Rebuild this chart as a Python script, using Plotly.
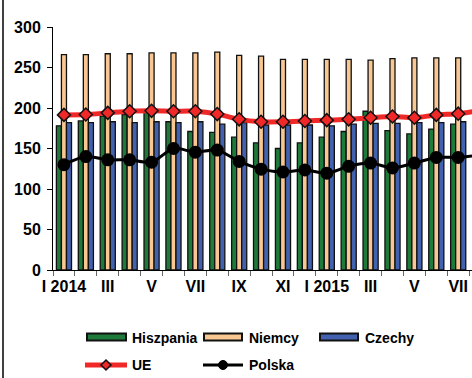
import plotly.graph_objects as go

# Months (Roman numerals), Jan 2014 - Aug 2015
months = ["I 2014", "II", "III", "IV", "V", "VI", "VII", "VIII", "IX", "X", "XI", "XII",
          "I 2015", "II", "III", "IV", "V", "VI", "VII", "VIII"]
tick_labels = ["I 2014", "III", "V", "VII", "IX", "XI", "I 2015", "III", "V", "VII"]

# Prices, EUR/100 kg
hiszpania = [178, 184, 190, 192, 197, 183, 171, 170, 164, 157, 150, 157,
             164, 171, 196, 172, 168, 174, 180]
niemcy = [266, 266, 267, 267, 268, 268, 268, 269, 265, 264, 260, 260,
          260, 260, 259, 261, 262, 262, 262]
czechy = [182, 182, 183, 182, 183, 182, 183, 180, 182, 179, 179, 179,
          178, 180, 181, 181, 182, 182, 183]
ue = [191.5, 192, 194, 196, 196.5, 196, 196, 192.5, 186, 183, 183, 184,
      185, 186, 188, 189.5, 188, 191.5, 193, 197]
polska = [130, 140, 136, 136, 133, 150, 145.5, 148, 134, 124.5, 121, 123.5,
          119.5, 128, 132, 126, 132, 139, 139, 142]

GREEN = "#1E7A3A"
PEACH = "#F9C892"
BLUE = "#4262B0"
RED = "#F02828"
FONT = "Liberation Sans, Arial, sans-serif"

W, H = 472, 378
ML, MT, MB, MR = 53, 27, 108, 0
PW, PH = W - ML - MR, H - MT - MB
N_VISIBLE = 19.13  # month slots spanned by the plot width

idx = list(range(len(months)))
nbar = len(hiszpania)

fig = go.Figure()
for name, vals, col in [("Hiszpania", hiszpania, GREEN),
                        ("Niemcy", niemcy, PEACH),
                        ("Czechy", czechy, BLUE)]:
    fig.add_trace(go.Bar(x=idx[:nbar], y=vals, name=name,
                         marker=dict(color=col, line=dict(color="#111", width=1.3))))

fig.add_trace(go.Scatter(x=idx, y=ue, name="UE", mode="lines+markers",
                         line=dict(color=RED, width=5, shape="spline", smoothing=0.8),
                         marker=dict(symbol="diamond", size=10, color=RED,
                                     line=dict(color="#111", width=1.5))))
fig.add_trace(go.Scatter(x=idx, y=polska, name="Polska", mode="lines+markers",
                         line=dict(color="black", width=3, shape="spline", smoothing=0.8),
                         marker=dict(symbol="circle", size=13, color="black")))


def px(x):
    return (x - ML) / PW


def py(y):
    return (MT + PH - y) / PH


bold = dict(family=FONT, size=14, color="black", weight="bold")
shapes = []
annotations = []

# frame line on the left
shapes.append(dict(type="line", xref="paper", yref="paper",
                   x0=px(3), x1=px(3), y0=py(H + 2), y1=py(-2),
                   line=dict(color="black", width=1.5)))

# legend: bar swatches
for label, col, x0, x1, tx in [("Hiszpania", GREEN, 87, 126, 130),
                               ("Niemcy", PEACH, 204, 242, 247),
                               ("Czechy", BLUE, 320, 358, 363)]:
    shapes.append(dict(type="rect", xref="paper", yref="paper",
                       x0=px(x0), x1=px(x1), y0=py(340.5), y1=py(333.5),
                       fillcolor=col, line=dict(color="#111", width=2)))
    annotations.append(dict(text=label, xref="paper", yref="paper",
                            x=px(tx), y=py(337.5), xanchor="left", yanchor="middle",
                            showarrow=False, font=bold))

# legend: line entries
shapes.append(dict(type="line", xref="paper", yref="paper",
                   x0=px(85), x1=px(127), y0=py(365), y1=py(365),
                   line=dict(color=RED, width=5)))
shapes.append(dict(type="path", xref="paper", yref="paper",
                   path="M {} {} L {} {} L {} {} L {} {} Z".format(
                       px(106), py(360), px(111), py(365), px(106), py(370), px(101), py(365)),
                   fillcolor=RED, line=dict(color="#111", width=1.5)))
annotations.append(dict(text="UE", xref="paper", yref="paper",
                        x=px(130), y=py(365), xanchor="left", yanchor="middle",
                        showarrow=False, font=bold))
shapes.append(dict(type="line", xref="paper", yref="paper",
                   x0=px(203), x1=px(243), y0=py(365), y1=py(365),
                   line=dict(color="black", width=3)))
shapes.append(dict(type="circle", xref="paper", yref="paper",
                   x0=px(218.5), x1=px(227.5), y0=py(369.5), y1=py(360.5),
                   fillcolor="black", line=dict(color="black", width=1)))
annotations.append(dict(text="Polska", xref="paper", yref="paper",
                        x=px(247), y=py(365), xanchor="left", yanchor="middle",
                        showarrow=False, font=bold))

tickfont = dict(family=FONT, size=16, color="black", weight="bold")

fig.update_layout(
    width=W, height=H,
    margin=dict(l=ML, r=MR, t=MT, b=MB, pad=0),
    paper_bgcolor="white", plot_bgcolor="white",
    barmode="group", bargap=0.31, bargroupgap=0,
    showlegend=False,
    font=dict(family=FONT, size=16, color="black"),
    shapes=shapes, annotations=annotations,
    xaxis=dict(range=[-0.5, N_VISIBLE - 0.5], tickmode="array",
               tickvals=[0, 2, 4, 6, 8, 10, 12, 14, 16, 18], ticktext=tick_labels,
               ticks="", showgrid=False, zeroline=False,
               showline=True, linecolor="black", linewidth=1,
               tickfont=tickfont, ticklabelstandoff=2,
               minor=dict(tickmode="linear", tick0=-0.5, dtick=1, ticks="outside",
                          ticklen=5, tickcolor="#666", showgrid=False)),
    yaxis=dict(range=[0, 300], tickmode="linear", tick0=0, dtick=50,
               ticks="outside", ticklen=5, tickcolor="black",
               showgrid=False, zeroline=False,
               showline=True, linecolor="black", linewidth=1,
               tickfont=tickfont, ticklabelstandoff=3),
)

fig.write_html("out.html")
